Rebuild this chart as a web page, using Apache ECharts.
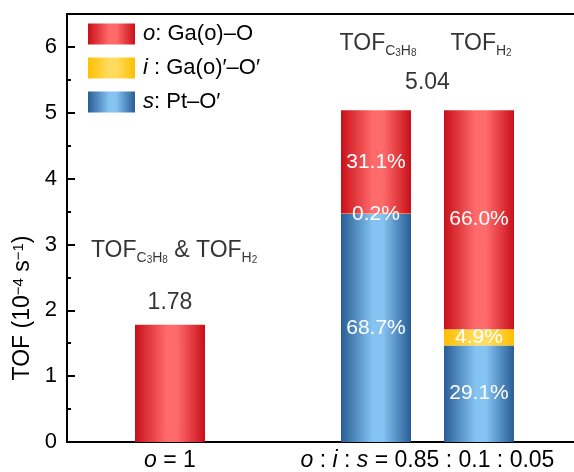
<!DOCTYPE html>
<html><head><meta charset="utf-8">
<script src="https://cdn.jsdelivr.net/npm/echarts@6/dist/echarts.min.js"></script>
<style>html,body{margin:0;padding:0;background:#fff}#c{width:574px;height:472px}</style>
</head><body><div id="c"></div>
<script>
// ---- data ----
var slots = ['0', 'o=1', '2', 'C3H8', 'H2', '5'];   // evenly spaced slots on the x axis
var sValues = ['-', '-', '-', 3.462, 1.467, '-'];  // s: Pt–O'
var iValues = ['-', '-', '-', 0.010, 0.247, '-'];  // i: Ga(o)'–O'
var oValues = ['-', 1.78, '-', 1.567, 3.326, '-']; // o: Ga(o)–O
var sPct = ['', '', '', '68.7%', '29.1%', ''];
var iPct = ['', '', '', '0.2%', '4.9%', ''];
var oPct = ['', '', '', '31.1%', '66.0%', ''];
var groupTickValues = [1, 3.5];
var groupTickLabels = ['{it|o} = 1', '{it|o} : {it|i} : {it|s} = 0.85 : 0.1 : 0.05'];
var totalsText = ['1.78', '5.04'];
var totalsAnchor = [[1, 2.12], [3.5, 5.46]];
var headText = ['TOF{sub|C}{sub2|3}{sub|H}{sub2|8} & TOF{sub|H}{sub2|2}', 'TOF{sub|C}{sub2|3}{sub|H}{sub2|8}', 'TOF{sub|H}{sub2|2}'];
var headAnchor = [[1.04, 2.91], [3.02, 6.05], [4.02, 6.05]];
var legendNames = ['o', 'i', 's'];
var legendText = {o: '{it|o}: Ga(o)–O', i: '{it|i} : Ga(o)′–O′', s: '{it|s}: Pt–O′'};

var FONT = 'Liberation Sans, Arial, sans-serif';
function grad(dark, light) {
  return new echarts.graphic.LinearGradient(0, 0, 1, 0, [
    {offset: 0, color: dark}, {offset: 0.45, color: light}, {offset: 0.6, color: light}, {offset: 1, color: dark}
  ]);
}
var cRed = grad('#c8101a', '#ff6a6a');
var cYel = grad('#ffbf00', '#ffdc60');
var cBlu = grad('#285d95', '#84c3f2');

function pctLabel(arr) {
  return {show: true, position: 'inside', color: '#fff', fontSize: 21, fontFamily: FONT,
    formatter: function (p) { return arr[p.dataIndex]; }};
}
var subRich = {
  b: {fontSize: 23, fontFamily: FONT, color: '#000', lineHeight: 30},
  sub: {fontSize: 14, fontFamily: FONT, color: '#000', verticalAlign: 'bottom', lineHeight: 13},
  sub2: {fontSize: 10, fontFamily: FONT, color: '#000', verticalAlign: 'bottom', lineHeight: 9}
};

var chart = echarts.init(document.getElementById('c'));
chart.setOption({
  animation: false,
  grid: {left: 67, width: 515, top: 14, bottom: 30, outerBoundsMode: 'none', containLabel: false,
    show: true, borderColor: '#000', borderWidth: 2},
  legend: {
    orient: 'vertical', left: 88, top: 23, padding: 0, itemWidth: 47, itemHeight: 21, itemGap: 12, icon: 'rect',
    data: legendNames, selectedMode: false,
    formatter: function (n) { return legendText[n]; },
    textStyle: {fontSize: 22, fontFamily: FONT, color: '#000', padding: [0, 0, 0, 3],
      rich: {it: {fontStyle: 'italic', fontSize: 22, fontFamily: FONT, color: '#000'}}}
  },
  xAxis: [{
    type: 'category', data: slots, boundaryGap: false,
    axisLine: {show: true, lineStyle: {color: '#000', width: 2}},
    axisTick: {show: false}, splitLine: {show: false}, axisLabel: {show: false}
  }, {
    type: 'value', min: 0, max: 5, interval: 0.5, position: 'bottom',
    axisLine: {show: false}, axisTick: {show: false}, splitLine: {show: false},
    axisLabel: {margin: 7, fontSize: 23, fontFamily: FONT, color: '#000',
      rich: {it: {fontStyle: 'italic', fontSize: 23, fontFamily: FONT, color: '#000'}},
      formatter: function (v) {
        for (var k = 0; k < groupTickValues.length; k++) if (Math.abs(v - groupTickValues[k]) < 1e-6) return groupTickLabels[k];
        return '';
      }}
  }],
  yAxis: {
    type: 'value', min: 0, max: 6.5, interval: 1,
    name: 'TOF (10{sup|−4} s{sup|−1})', nameLocation: 'middle', nameGap: 32, nameRotate: 90,
    nameTextStyle: {fontSize: 23, fontFamily: FONT, color: '#000', padding: [0, 160, 0, 0],
      rich: {sup: {fontSize: 15, fontFamily: FONT, color: '#000', verticalAlign: 'top'}}},
    axisLine: {show: true, lineStyle: {color: '#000', width: 2}},
    axisTick: {show: true, inside: true, length: 8, lineStyle: {color: '#000', width: 2}},
    minorTick: {show: true, splitNumber: 2, length: 4, lineStyle: {color: '#000', width: 2}},
    splitLine: {show: false},
    axisLabel: {margin: 10, fontSize: 22, fontFamily: FONT, color: '#000',
      formatter: function (v) { return v > 6.01 ? '' : String(v); }}
  },
  series: [
    {name: 's', type: 'bar', stack: 'tof', barWidth: 70, data: sValues, itemStyle: {color: cBlu}, label: pctLabel(sPct)},
    {name: 'i', type: 'bar', stack: 'tof', barWidth: 70, data: iValues, itemStyle: {color: cYel}, label: pctLabel(iPct)},
    {name: 'o', type: 'bar', stack: 'tof', barWidth: 70, data: oValues, itemStyle: {color: cRed}, label: pctLabel(oPct)},
    {type: 'scatter', xAxisIndex: 1, symbolSize: 0, silent: true,
      data: totalsAnchor.map(function (a, k) { return {value: a, name: totalsText[k]}; }),
      label: {show: true, position: 'inside', fontSize: 23, fontFamily: FONT, color: '#000', formatter: '{b}'}},
    {type: 'scatter', xAxisIndex: 1, symbolSize: 0, silent: true,
      data: headAnchor.map(function (a, k) { return {value: a, name: headText[k]}; }),
      label: {show: true, position: 'inside', color: '#000', fontSize: 23, fontFamily: FONT, rich: subRich,
        formatter: function (p) { return headText[p.dataIndex].replace(/TOF/g, '{b|TOF}').replace(/ & /g, '{b| & }'); }}}
  ]
});
</script></body></html>
